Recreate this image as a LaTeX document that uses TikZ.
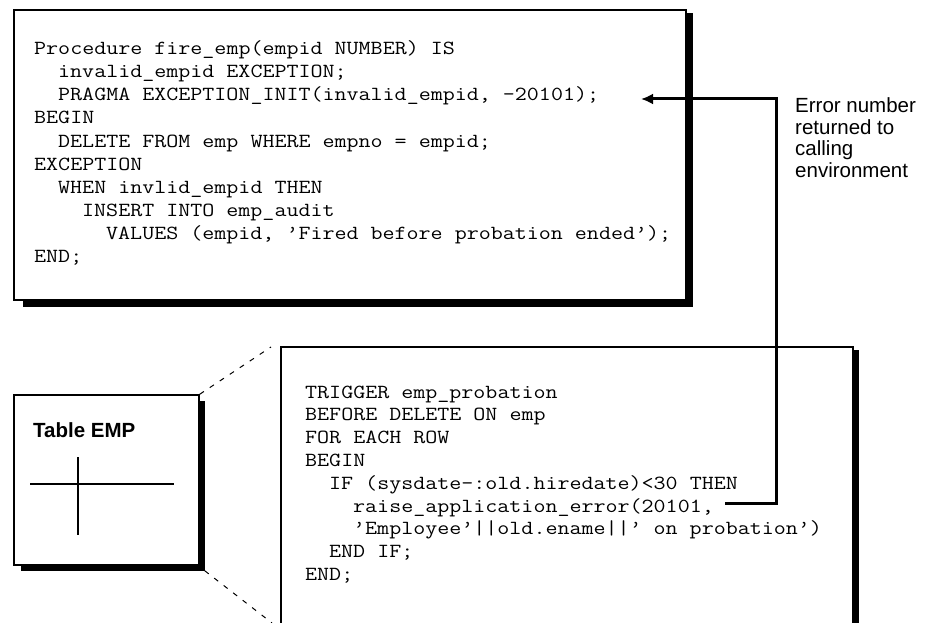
\documentclass[tikz,border=0pt]{standalone}
\usepackage{fontspec}
\setmonofont[FakeStretch=1.167]{Latin Modern Mono}
\setsansfont{Liberation Sans}
\usetikzlibrary{arrows.meta}

\tikzset{
  codebox/.style={draw=black, line width=1.5pt, fill=white, inner sep=0pt},
  shadowband/.style={fill=black},
  code/.style={anchor=base west, inner sep=0pt, font=\ttfamily\fontsize{20}{23}\selectfont},
  note/.style={anchor=base west, inner sep=0pt, font=\sffamily\fontsize{20.5}{21.5}\selectfont},
  link/.style={line width=3pt, line join=miter},
  zoomline/.style={line width=1pt, dash pattern=on 5pt off 7pt},
  gridline/.style={line width=1.8pt}
}

\begin{document}
\begin{tikzpicture}[x=1pt, y=-1pt]
  \clip (0,0) rectangle (934,623);
  \fill[white] (0,0) rectangle (934,623);

  % procedure box
  \node (proc) [codebox, minimum width=672pt, minimum height=290pt] at (350,155) {};
  \fill[shadowband] ([xshift=10pt]proc.south west) rectangle ([shift={(6pt,-6pt)}]proc.south east);
  \fill[shadowband] ([yshift=-4pt]proc.north east) rectangle ([shift={(6pt,-6pt)}]proc.south east);

  \foreach \ind/\txt [count=\i] in {
      0/{Procedure fire\_emp(empid NUMBER) IS},
      2/{invalid\_empid EXCEPTION;},
      2/{PRAGMA EXCEPTION\_INIT(invalid\_empid, -20101);},
      0/{BEGIN},
      2/{DELETE FROM emp WHERE empno = empid;},
      0/{EXCEPTION},
      2/{WHEN invlid\_empid THEN},
      4/{INSERT INTO emp\_audit},
      6/{VALUES (empid, ’Fired before probation ended’);},
      0/{END;}}
    \node (p\i) [code] at ({34+12*\ind}, {55+23*(\i-1)}) {\txt};

  % trigger box
  \node (trig) [codebox, minimum width=572pt, minimum height=320pt, anchor=north west] at (280,346) {};
  \fill[shadowband] ([yshift=-4pt]trig.north east) rectangle ([shift={(5pt,-20pt)}]trig.south east);

  \foreach \ind/\txt [count=\i] in {
      0/{TRIGGER emp\_probation},
      0/{BEFORE DELETE ON emp},
      0/{FOR EACH ROW},
      0/{BEGIN},
      2/{IF (sysdate-:old.hiredate)<30 THEN},
      4/{raise\_application\_error(20101,},
      4/{’Employee’||old.ename||’ on probation’)},
      2/{END IF;},
      0/{END;}}
    \node (t\i) [code] at ({305+12*\ind}, {398+22.8*(\i-1)}) {\txt};

  % table box
  \node (tbl) [codebox, minimum width=185pt, minimum height=170pt] at (106.5,480) {};
  \fill[shadowband] ([xshift=8pt]tbl.south west) rectangle ([shift={(5pt,-5pt)}]tbl.south east);
  \fill[shadowband] ([yshift=-7pt]tbl.north east) rectangle ([shift={(5pt,-5pt)}]tbl.south east);
  \node (tbltitle) [anchor=base west, inner sep=0pt, font=\sffamily\bfseries\fontsize{20.5}{22}\selectfont] at (33,437) {Table EMP};
  \coordinate (gl) at (30,484);
  \coordinate (gr) at (174,484);
  \coordinate (gt) at (78,457);
  \coordinate (gb) at (78,535);
  \draw[gridline] (gl) -- (gr);
  \draw[gridline] (gt) -- (gb);

  % zoom lines from the table to the trigger
  \coordinate (zt) at (271,347);
  \coordinate (zb) at (272,623);
  \draw[zoomline] (tbl.north east) -- (zt);
  \draw[zoomline] ([shift={(5pt,-5pt)}]tbl.south east) -- (zb);

  % error path from the trigger back to the procedure
  \coordinate (src) at (725,503);
  \coordinate (dst) at (641,99);
  \draw[link, -{Latex[length=12pt, width=11pt]}] (src) -- (776,503) |- (dst);

  % label
  \foreach \txt [count=\i] in {Error number, returned to, calling, environment}
    \node (e\i) [note] at (795, {113+21.5*(\i-1)}) {\txt};
\end{tikzpicture}
\end{document}
